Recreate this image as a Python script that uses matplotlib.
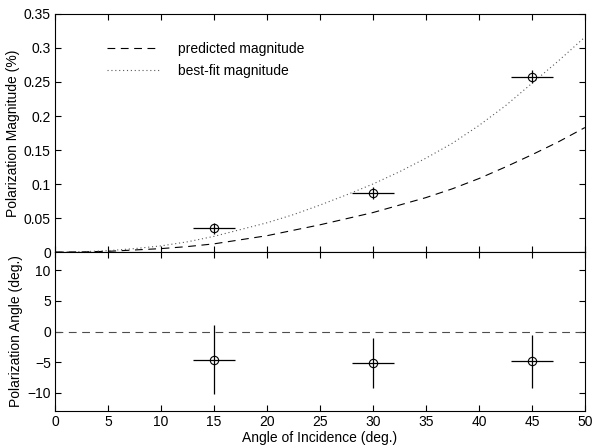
import matplotlib.pyplot as plt
import numpy as np
from matplotlib.ticker import FormatStrFormatter

plt.rcParams['font.family'] = ['Liberation Sans', 'DejaVu Sans']
plt.rcParams['font.size'] = 10

# curves (angle of incidence in deg.)
curve_angle = [0, 2.5, 5, 7.5, 10, 12.5, 15, 17.5, 20, 22.5, 25,
               27.5, 30, 32.5, 35, 37.5, 40, 42.5, 45, 47.5, 50]
predicted_mag = [0, 0.0002, 0.001, 0.003, 0.005, 0.008, 0.012, 0.018, 0.024, 0.032, 0.040,
                 0.049, 0.058, 0.069, 0.080, 0.093, 0.108, 0.125, 0.143, 0.162, 0.183]
bestfit_mag = [0, 0.0004, 0.002, 0.005, 0.009, 0.015, 0.023, 0.033, 0.043, 0.055, 0.069,
               0.084, 0.100, 0.118, 0.138, 0.160, 0.186, 0.215, 0.248, 0.281, 0.316]

# measurements
meas_angle = [15, 30, 45]
meas_angle_err = [2, 2, 2]
meas_mag = [0.035, 0.087, 0.258]
meas_mag_err = [0.008, 0.009, 0.009]
meas_pol = [-4.6, -5.1, -4.9]
meas_pol_err = [5.6, 4.1, 4.4]

predicted_pol = [0, 0]
predicted_pol_angle = [0, 50]

fig = plt.figure(figsize=(5.92, 4.47), dpi=100)
ax1 = fig.add_axes([0.0929, 0.4362, 0.8951, 0.5325])
ax2 = fig.add_axes([0.0929, 0.0805, 0.8951, 0.3557])

ax1.plot(curve_angle, predicted_mag, color='black', lw=0.8, dashes=(7, 5),
         label='predicted magnitude')
ax1.plot(curve_angle, bestfit_mag, color='0.35', lw=0.8, linestyle=(0, (1, 2.5)),
         label='best-fit magnitude')
ax1.errorbar(meas_angle, meas_mag, xerr=meas_angle_err, yerr=meas_mag_err,
             fmt='o', mfc='none', mec='black', ms=6, mew=0.8,
             ecolor='black', elinewidth=0.9, capsize=0)
ax1.set_xlim(0, 50)
ax1.set_ylim(0, 0.35)
ax1.set_yticks(np.arange(0, 0.351, 0.05))
ax1.yaxis.set_major_formatter(FormatStrFormatter('%g'))
ax1.set_xticks(np.arange(0, 51, 5))
ax1.tick_params(labelbottom=False)
ax1.set_ylabel('Polarization Magnitude (%)', labelpad=3)
ax1.legend(loc='upper left', bbox_to_anchor=(0.075, 0.935), frameon=False,
           handlelength=3.8, handletextpad=1.3, labelspacing=0.55)

ax2.plot(predicted_pol_angle, predicted_pol, color='0.3', lw=0.8, dashes=(7, 5))
ax2.errorbar(meas_angle, meas_pol, xerr=meas_angle_err, yerr=meas_pol_err,
             fmt='o', mfc='none', mec='black', ms=6, mew=0.8,
             ecolor='black', elinewidth=0.9, capsize=0)
ax2.set_xlim(0, 50)
ax2.set_ylim(-13, 13)
ax2.set_yticks([-10, -5, 0, 5, 10])
ax2.set_xticks(np.arange(0, 51, 5))
ax2.set_xlabel('Angle of Incidence (deg.)', labelpad=1)
ax2.set_ylabel('Polarization Angle (deg.)', labelpad=3)

for ax in (ax1, ax2):
    ax.tick_params(direction='in', top=True, right=True, length=4, width=0.8,
                   pad=3)
    for sp in ax.spines.values():
        sp.set_linewidth(0.8)

fig.savefig('out.png', dpi=100)
